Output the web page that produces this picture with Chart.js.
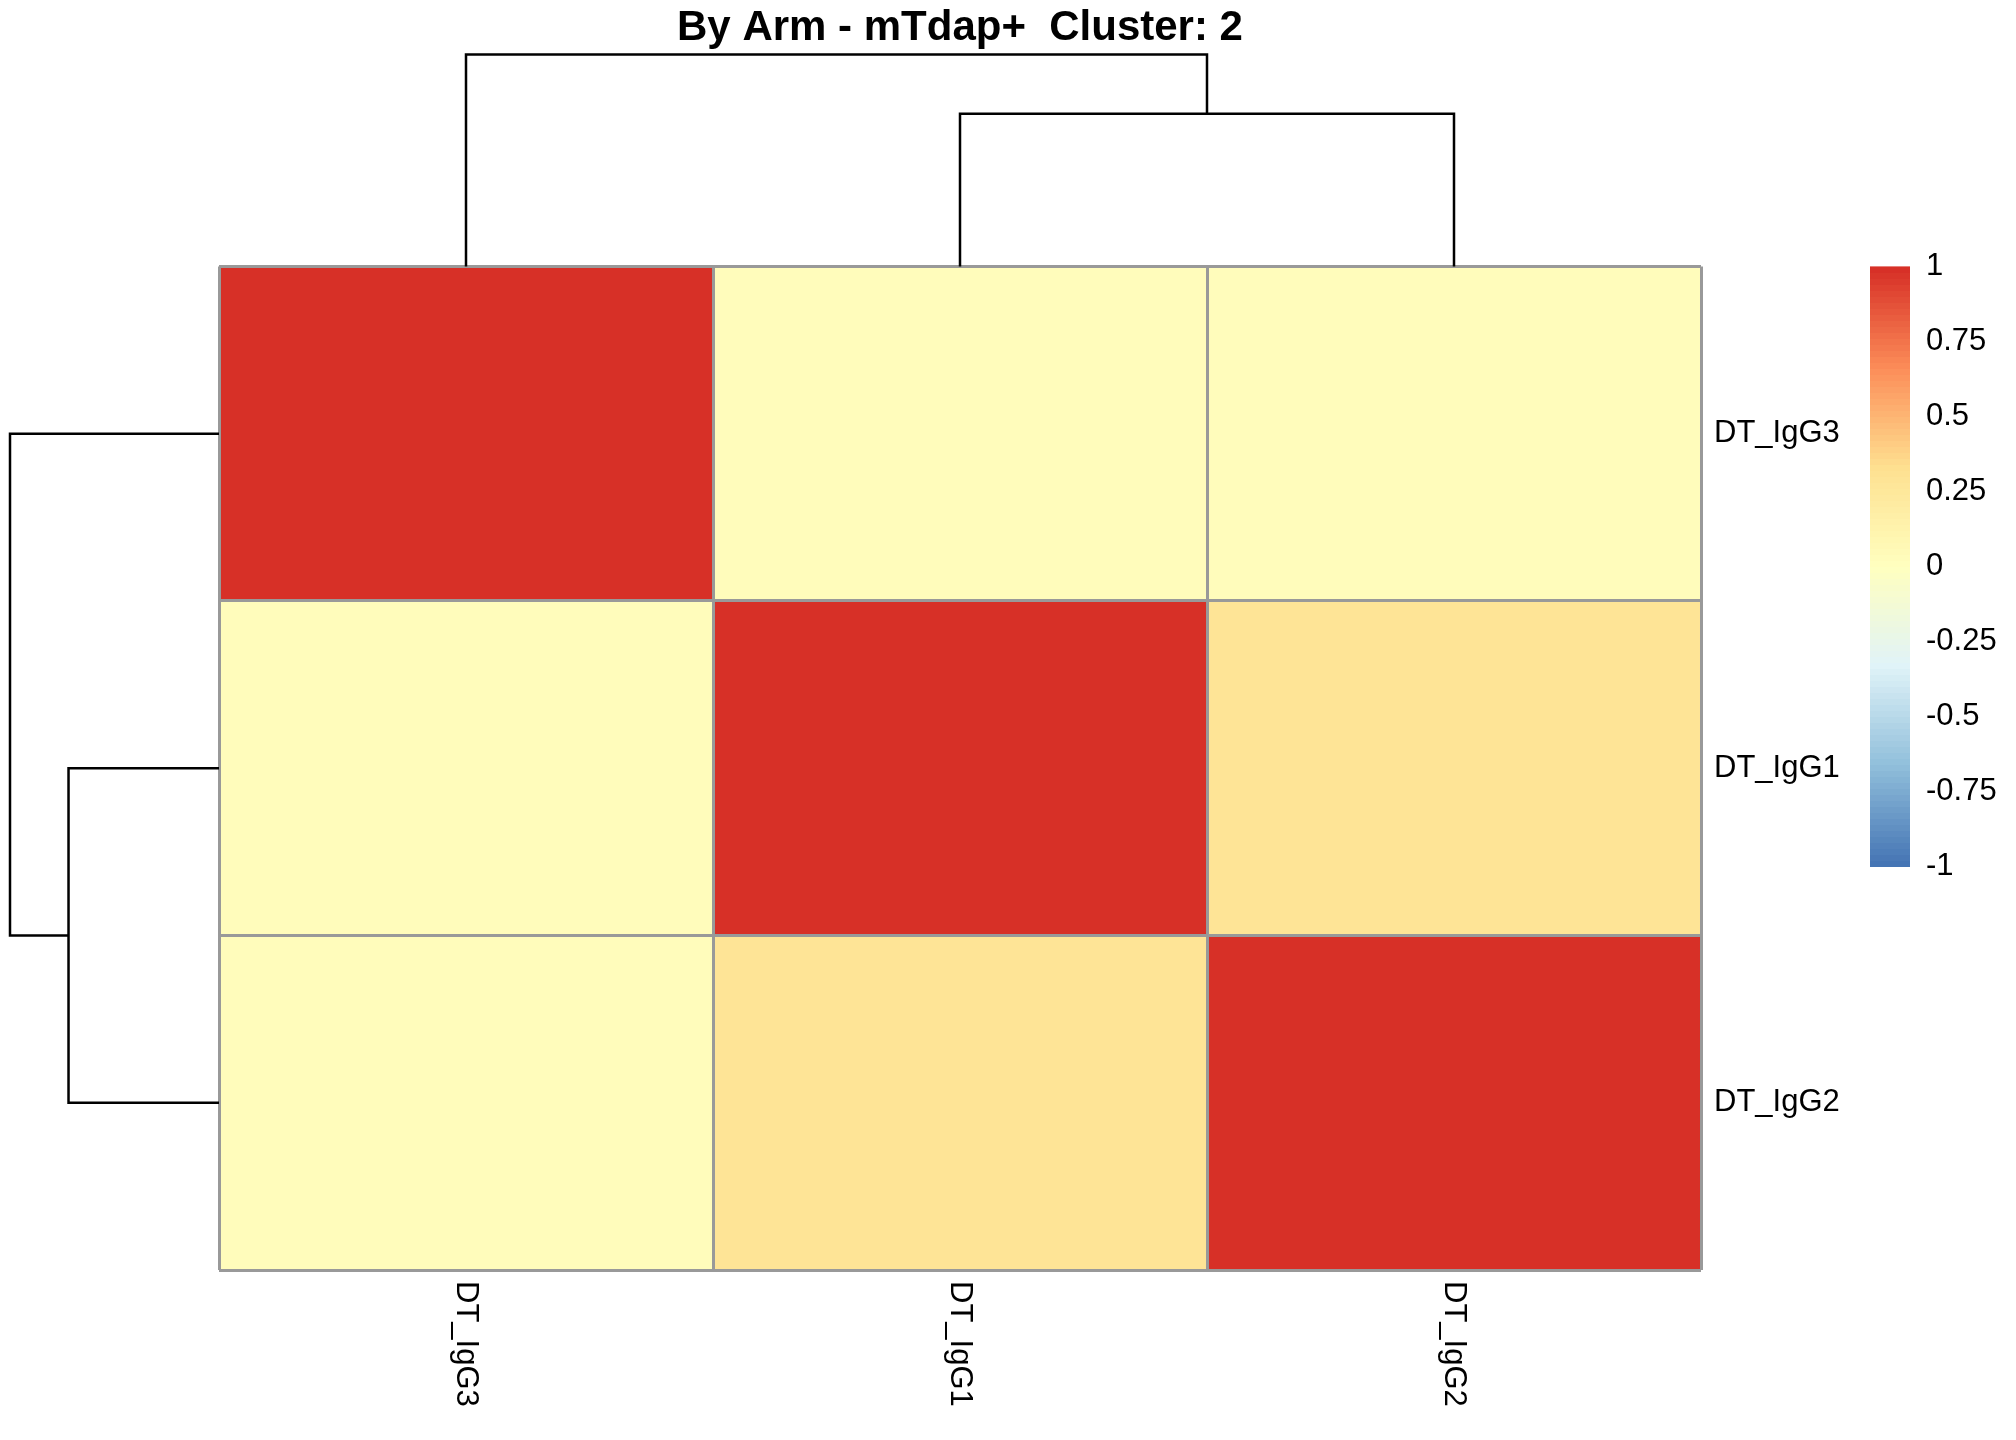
<!DOCTYPE html>
<html>
<head>
<meta charset="utf-8">
<script src="https://cdn.jsdelivr.net/npm/chart.js@4.4.1/dist/chart.umd.min.js"></script>
<style>
html, body { margin: 0; padding: 0; background: #fff; }
#wrap { width: 2016px; height: 1440px; }
</style>
</head>
<body>
<div id="wrap"><canvas id="heatChart"></canvas></div>
<script>
var rowNames = ["DT_IgG3", "DT_IgG1", "DT_IgG2"];
var colNames = ["DT_IgG3", "DT_IgG1", "DT_IgG2"];
var rowIgG3 = [1, 0.03, 0.02];
var rowIgG1 = [0.03, 1, 0.28];
var rowIgG2 = [0.02, 0.28, 1];
var legendTicks = [1, 0.75, 0.5, 0.25, 0, -0.25, -0.5, -0.75, -1];
// hclust style merges: negative = leaf (1-based), positive = earlier merge
var treeMerge = [[-2, -3], [-1, 1]];
var treeHeight = [0.72, 1];
var palette = ["#4575B4", "#91BFDB", "#E0F3F8", "#FFFFBF", "#FEE090", "#FC8D59", "#D73027"];

var fontFamily = "'Liberation Sans', Arial, sans-serif";

function hexRgb(h) {
  return [parseInt(h.slice(1, 3), 16), parseInt(h.slice(3, 5), 16), parseInt(h.slice(5, 7), 16)];
}

// colorRampPalette(palette)(n)[i]
function rampColor(i, n) {
  var p = i / (n - 1) * (palette.length - 1);
  var k = Math.min(Math.floor(p), palette.length - 2);
  var f = p - k;
  var a = hexRgb(palette[k]), b = hexRgb(palette[k + 1]);
  var c = a.map(function (v, j) { return Math.round(v + (b[j] - v) * f); });
  return "rgb(" + c.join(",") + ")";
}

function valueColor(v) {
  var idx = Math.floor((v + 1) / 2 * 100);
  idx = Math.max(0, Math.min(99, idx));
  return rampColor(idx, 100);
}

function treeNodes(merge, height) {
  var nodes = [];
  merge.forEach(function (m, i) {
    var kids = m.map(function (k) { return k < 0 ? { pos: -k - 1, h: 0 } : nodes[k - 1]; });
    nodes.push({ pos: (kids[0].pos + kids[1].pos) / 2, h: height[i], kids: kids });
  });
  return nodes;
}

var matrix = [rowIgG3, rowIgG1, rowIgG2];
var datasets = matrix.map(function (row, r) {
  return {
    label: rowNames[r],
    data: row.map(function () { return [r, r + 1]; }),
    backgroundColor: row.map(valueColor),
    borderWidth: 0
  };
});

var extras = {
  id: "extras",
  afterDraw: function (chart) {
    var ctx = chart.ctx, area = chart.chartArea;
    var xs = chart.scales.x, ys = chart.scales.y;
    var nodes = treeNodes(treeMerge, treeHeight);
    ctx.save();
    ctx.strokeStyle = "#000";
    ctx.lineWidth = 2.5;

    // column dendrogram
    var colY = function (h) { return area.top - h * 212; };
    nodes.forEach(function (n) {
      var x0 = xs.getPixelForValue(n.kids[0].pos), x1 = xs.getPixelForValue(n.kids[1].pos);
      ctx.beginPath();
      ctx.moveTo(x0, colY(n.kids[0].h));
      ctx.lineTo(x0, colY(n.h));
      ctx.lineTo(x1, colY(n.h));
      ctx.lineTo(x1, colY(n.kids[1].h));
      ctx.stroke();
    });

    // row dendrogram
    var rowX = function (h) { return area.left - h * 209; };
    nodes.forEach(function (n) {
      var y0 = ys.getPixelForValue(n.kids[0].pos + 0.5), y1 = ys.getPixelForValue(n.kids[1].pos + 0.5);
      ctx.beginPath();
      ctx.moveTo(rowX(n.kids[0].h), y0);
      ctx.lineTo(rowX(n.h), y0);
      ctx.lineTo(rowX(n.h), y1);
      ctx.lineTo(rowX(n.kids[1].h), y1);
      ctx.stroke();
    });

    // row and column labels
    ctx.fillStyle = "#000";
    ctx.font = "31px " + fontFamily;
    ctx.textAlign = "left";
    ctx.textBaseline = "middle";
    rowNames.forEach(function (name, r) {
      ctx.fillText(name, area.right + 13, ys.getPixelForValue(r + 0.5));
    });
    colNames.forEach(function (name, c) {
      ctx.save();
      ctx.translate(xs.getPixelForValue(c), area.bottom + 11);
      ctx.rotate(Math.PI / 2);
      ctx.fillText(name, 0, 0);
      ctx.restore();
    });

    // colour key
    var lx = area.right + 169, lw = 40, lt = area.top, lh = 600;
    for (var i = 0; i < 100; i++) {
      ctx.fillStyle = rampColor(i, 100);
      var yb = lt + lh - (i + 1) * lh / 100;
      ctx.fillRect(lx, yb, lw, lh / 100 + 0.6);
    }
    ctx.fillStyle = "#000";
    legendTicks.forEach(function (v) {
      ctx.fillText(String(v), lx + lw + 16, lt + (1 - v) / 2 * lh);
    });
    ctx.restore();
  }
};

new Chart("heatChart", {
  type: "bar",
  data: {
    labels: colNames,
    datasets: datasets
  },
  options: {
    responsive: true,
    maintainAspectRatio: false,
    animation: false,
    layout: { padding: { left: 219, right: 315, top: 0, bottom: 170 } },
    datasets: { bar: { barPercentage: 1, categoryPercentage: 1, grouped: false } },
    plugins: {
      legend: { display: false },
      tooltip: { enabled: false },
      title: {
        display: true,
        text: "By Arm - mTdap+  Cluster: 2",
        color: "#000",
        font: { family: fontFamily, size: 42, weight: "bold", lineHeight: 1.2 },
        padding: { top: 3, bottom: 213 }
      }
    },
    scales: {
      x: {
        type: "category",
        offset: true,
        ticks: { display: false },
        grid: { offset: true, color: "#999999", lineWidth: 3, drawTicks: false, z: 1 },
        border: { display: false }
      },
      y: {
        type: "linear",
        min: 0,
        max: 3,
        reverse: true,
        ticks: { display: false, stepSize: 1 },
        grid: { color: "#999999", lineWidth: 3, drawTicks: false, z: 1 },
        border: { display: false }
      }
    }
  },
  plugins: [extras]
});
</script>
</body>
</html>
